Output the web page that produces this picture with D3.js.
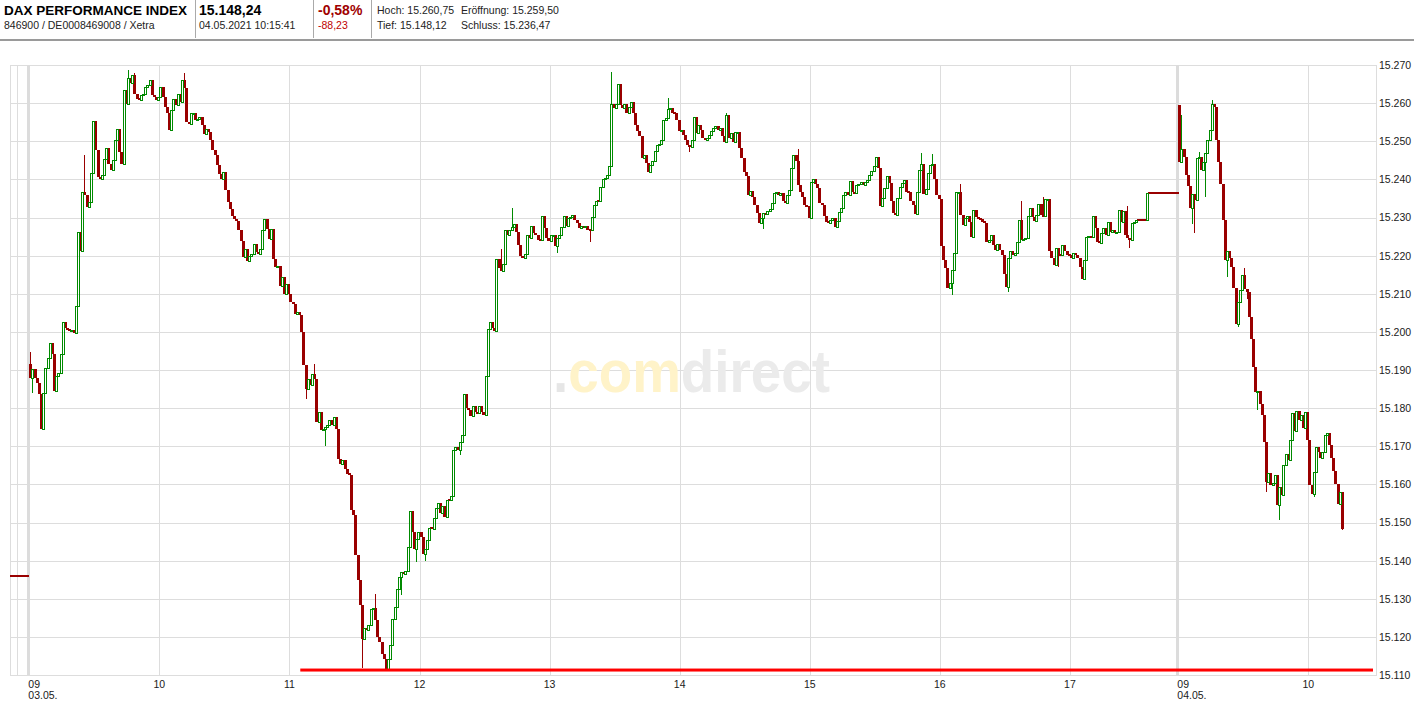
<!DOCTYPE html>
<html>
<head>
<meta charset="utf-8">
<script src="https://cdn.jsdelivr.net/npm/d3@7"></script>
<style>
  body { margin: 0; background: #fff; }
  #chart { width: 1414px; height: 701px; }
  svg text { font-family: "Liberation Sans", Arial, sans-serif; }
</style>
</head>
<body>
<div id="chart"></div>
<script>
// DAX intraday chart, 1-minute candles, Xetra 03.05. - 04.05.2021

// Quote header
const quoteTitle = ['DAX PERFORMANCE INDEX', '846900 / DE0008469008 / Xetra'];
const quoteLast = ['15.148,24', '04.05.2021 10:15:41'];
const quoteChange = ['-0,58%', '-88,23'];
const quoteFields = [['Hoch:', '15.260,75'], ['Eröffnung:', '15.259,50'], ['Tief:', '15.148,12'], ['Schluss:', '15.236,47']];

// Axis
const yTicks = [15110, 15120, 15130, 15140, 15150, 15160, 15170, 15180, 15190, 15200, 15210, 15220, 15230, 15240, 15250, 15260, 15270];
const hourLabels = ['09', '10', '11', '12', '13', '14', '15', '16', '17', '09', '10'];
const hourTicks = [0, 60, 120, 180, 240, 300, 360, 420, 480, 530, 590];   // minutes on the trading axis
const sessionDates = ['03.05.', '04.05.'];
const sessionStart = [0, 530];

// Reference levels
const prevClose = 15135.91;      // Schluss 30.04.
const sessionOpen = [15191.5, 15259.50];
const supportLevel = 15111.3;
const supportFrom = '11:05';

// Closes per minute, 03.05.
const c09 = [15188.0, 15190.2, 15188.0, 15186.7, 15183.6, 15174.4, 15184.0, 15190.6, 15193.2, 15197.2,
  15194.1, 15184.5, 15188.4, 15189.3, 15194.1, 15202.5, 15201.1, 15200.5, 15200.3, 15200.5,
  15199.8, 15206.8, 15226.1, 15221.3, 15236.8, 15235.8, 15232.7, 15234.0, 15241.7, 15255.3,
  15247.6, 15240.6, 15240.2, 15241.1, 15245.3, 15248.1, 15244.1, 15242.4, 15245.0, 15250.4,
  15253.3, 15247.2, 15244.1, 15263.4, 15259.9, 15266.5, 15265.2, 15267.4, 15262.5, 15261.2,
  15260.8, 15262.1, 15262.5, 15264.3, 15264.7, 15266.1, 15262.1, 15261.7, 15260.8, 15261.7];
const c10 = [15264.3, 15261.5, 15259.0, 15257.3, 15252.9, 15258.2, 15261.0, 15259.5, 15262.5, 15260.4,
  15266.1, 15263.9, 15255.1, 15254.5, 15257.3, 15257.5, 15255.5, 15255.8, 15256.4, 15254.2,
  15252.0, 15253.3, 15252.5, 15250.3, 15247.6, 15246.3, 15243.7, 15241.5, 15240.0, 15241.9,
  15237.1, 15234.0, 15232.3, 15230.5, 15229.6, 15229.2, 15226.6, 15223.9, 15219.6, 15221.8,
  15218.7, 15220.0, 15220.4, 15223.1, 15220.9, 15220.4, 15221.8, 15226.8, 15229.6, 15227.0,
  15224.4, 15227.0, 15219.1, 15216.9, 15217.4, 15212.1, 15214.4, 15210.0, 15212.6, 15210.0];
const c11 = [15207.8, 15207.4, 15204.8, 15205.2, 15204.3, 15199.9, 15191.2, 15185.1, 15187.7, 15186.0,
  15189.0, 15187.7, 15176.3, 15179.0, 15174.2, 15174.6, 15175.0, 15175.5, 15177.0, 15175.5,
  15177.7, 15174.6, 15166.7, 15165.4, 15166.3, 15164.1, 15162.8, 15162.4, 15153.2, 15151.9,
  15141.4, 15134.8, 15128.3, 15119.5, 15122.4, 15121.7, 15123.0, 15127.4, 15127.7, 15124.3,
  15120.0, 15118.7, 15115.6, 15114.3, 15111.7, 15114.3, 15117.8, 15124.8, 15127.8, 15132.6,
  15135.7, 15137.0, 15136.6, 15137.4, 15143.7, 15153.0, 15147.5, 15143.1, 15145.8, 15147.5];
const c12 = [15146.2, 15141.8, 15143.1, 15145.3, 15148.6, 15148.4, 15151.3, 15153.9, 15155.1, 15152.5,
  15154.2, 15151.4, 15156.0, 15155.8, 15157.0, 15168.9, 15169.8, 15168.9, 15171.1, 15173.0,
  15183.6, 15180.1, 15179.4, 15178.0, 15180.5, 15179.0, 15178.7, 15180.5, 15179.1, 15178.3,
  15188.5, 15200.8, 15202.6, 15201.0, 15200.1, 15219.2, 15216.7, 15215.9, 15217.8, 15226.8,
  15225.5, 15226.8, 15227.4, 15228.3, 15226.3, 15222.8, 15219.8, 15219.4, 15220.4, 15225.3,
  15224.6, 15227.7, 15225.9, 15225.5, 15224.2, 15224.2, 15230.3, 15227.2, 15224.6, 15223.9];
const c13 = [15225.3, 15225.5, 15222.4, 15224.6, 15225.5, 15227.4, 15230.3, 15227.7, 15229.8, 15230.1,
  15230.7, 15229.4, 15228.5, 15227.2, 15227.7, 15227.5, 15227.7, 15226.8, 15226.8, 15230.1,
  15233.3, 15234.2, 15234.2, 15238.0, 15240.1, 15240.3, 15241.2, 15243.4, 15259.7, 15258.7,
  15259.7, 15265.0, 15259.6, 15258.7, 15259.7, 15257.4, 15259.1, 15260.4, 15257.4, 15254.3,
  15252.6, 15251.3, 15245.6, 15246.3, 15244.3, 15241.9, 15243.8, 15244.9, 15247.5, 15249.1,
  15249.2, 15250.4, 15255.6, 15256.2, 15258.4, 15258.7, 15257.4, 15257.4, 15255.6, 15252.7];
const c14 = [15253.0, 15251.7, 15250.4, 15249.1, 15248.6, 15250.4, 15256.3, 15252.1, 15254.3, 15253.0,
  15250.8, 15250.4, 15250.8, 15251.7, 15252.6, 15253.6, 15253.9, 15253.0, 15253.6, 15251.3,
  15249.9, 15256.9, 15250.8, 15252.1, 15249.9, 15252.3, 15252.5, 15248.2, 15245.7, 15241.9,
  15240.8, 15235.9, 15237.0, 15235.5, 15233.3, 15231.1, 15228.5, 15229.8, 15231.1, 15230.9,
  15231.6, 15232.3, 15233.8, 15236.4, 15236.6, 15235.9, 15236.4, 15234.2, 15233.8, 15235.8,
  15237.3, 15242.9, 15246.4, 15244.9, 15238.6, 15236.8, 15235.5, 15233.3, 15232.9, 15230.0];
const c15 = [15239.4, 15240.1, 15238.7, 15237.7, 15233.8, 15233.3, 15230.3, 15228.9, 15228.5, 15229.4,
  15229.8, 15227.4, 15229.1, 15231.4, 15232.6, 15235.9, 15236.6, 15235.8, 15239.6, 15236.6,
  15236.4, 15238.4, 15238.7, 15239.3, 15238.4, 15239.3, 15239.9, 15241.2, 15242.2, 15243.6,
  15246.0, 15242.9, 15232.9, 15235.1, 15237.7, 15240.8, 15239.0, 15234.2, 15231.1, 15230.7,
  15235.1, 15238.1, 15239.0, 15239.9, 15236.8, 15236.6, 15234.2, 15233.3, 15231.0, 15236.8,
  15242.4, 15244.0, 15236.2, 15237.5, 15241.7, 15243.9, 15244.1, 15240.1, 15236.0, 15234.8];
const c16 = [15222.5, 15218.9, 15216.7, 15211.4, 15212.7, 15216.2, 15220.6, 15236.6, 15236.8, 15230.7,
  15228.1, 15229.8, 15230.4, 15228.9, 15225.0, 15232.0, 15230.1, 15229.8, 15229.6, 15228.9,
  15228.5, 15223.7, 15224.1, 15225.4, 15222.8, 15221.5, 15223.1, 15221.5, 15220.2, 15215.2,
  15211.8, 15219.3, 15221.1, 15220.2, 15220.6, 15223.7, 15229.4, 15224.1, 15224.4, 15224.6,
  15230.3, 15232.5, 15230.1, 15229.2, 15230.7, 15233.6, 15230.7, 15230.3, 15234.8, 15234.9,
  15221.1, 15219.3, 15217.5, 15221.9, 15220.2, 15220.2, 15222.8, 15221.1, 15220.2, 15220.2];
// 17:00 - 17:49, closing auction at 17:35
const c17 = [15219.3, 15220.6, 15220.2, 15219.3, 15217.1, 15214.0, 15218.9, 15224.8, 15225.2, 15224.8,
  15230.3, 15227.2, 15223.7, 15223.2, 15225.9, 15227.2, 15225.4, 15228.9, 15226.3, 15226.8,
  15225.9, 15226.3, 15232.0, 15228.9, 15231.6, 15225.4, 15224.6, 15224.1, 15228.5, 15228.9,
  15229.4, 15229.4, 15229.4, 15229.4, 15229.4, 15236.47, 15236.47, 15236.47, 15236.47, 15236.47,
  15236.47, 15236.47, 15236.47, 15236.47, 15236.47, 15236.47, 15236.47, 15236.47, 15236.47, 15236.47];

// Closes per minute, 04.05.
const d2c09 = [15244.6, 15248.0, 15245.9, 15241.1, 15238.2, 15232.4, 15236.1, 15234.6, 15245.5, 15245.9,
  15242.4, 15244.6, 15246.8, 15250.3, 15252.9, 15259.9, 15259.1, 15250.3, 15244.5, 15238.9,
  15229.3, 15218.9, 15221.3, 15219.5, 15216.9, 15211.5, 15202.1, 15207.8, 15211.0, 15215.0,
  15211.3, 15210.4, 15203.8, 15198.2, 15190.7, 15184.2, 15184.6, 15181.1, 15178.1, 15171.2,
  15160.7, 15162.9, 15159.8, 15160.3, 15162.5, 15154.6, 15159.4, 15157.2, 15165.1, 15167.9,
  15166.4, 15171.7, 15178.7, 15173.9, 15179.3, 15176.9, 15178.2, 15174.7, 15179.1, 15171.7];
const d2c10 = [15159.8, 15157.4, 15163.3, 15169.9, 15168.6, 15166.8, 15168.6, 15173.0, 15173.4, 15170.4,
  15166.8, 15163.5, 15160.0, 15154.8, 15158.1, 15148.24];

// Visible wicks: [date, time, high, low]
const wicks = [
  ['03.05.', '09:00', 15194.7, null], ['03.05.', '09:01', null, 15184.0], ['03.05.', '09:25', 15246.5, null],
  ['03.05.', '09:45', 15268.7, null], ['03.05.', '09:48', 15268.0, null], ['03.05.', '10:11', 15267.9, null],
  ['03.05.', '11:07', null, 15182.5], ['03.05.', '11:11', 15191.5, null], ['03.05.', '11:16', null, 15170.0],
  ['03.05.', '11:28', null, 15160.6], ['03.05.', '11:33', null, 15111.9], ['03.05.', '11:39', 15131.3, null],
  ['03.05.', '11:51', null, 15130.9], ['03.05.', '11:58', null, 15139.6], ['03.05.', '12:02', null, 15140.0],
  ['03.05.', '12:18', null, 15167.6], ['03.05.', '12:37', 15221.8, null], ['03.05.', '12:42', 15232.5, null],
  ['03.05.', '12:47', null, 15221.1], ['03.05.', '13:03', null, 15220.7], ['03.05.', '13:18', null, 15223.7],
  ['03.05.', '13:28', 15268.1, null], ['03.05.', '13:54', 15261.3, null], ['03.05.', '14:04', null, 15247.3],
  ['03.05.', '14:21', 15257.4, null], ['03.05.', '14:38', null, 15227.0], ['03.05.', '14:54', 15248.0, null],
  ['03.05.', '15:51', 15246.8, null], ['03.05.', '15:56', 15246.6, null], ['03.05.', '16:05', null, 15209.6],
  ['03.05.', '16:09', 15238.9, null], ['03.05.', '16:31', null, 15210.5], ['03.05.', '16:37', 15234.2, null],
  ['03.05.', '16:47', 15235.4, null], ['03.05.', '16:54', null, 15217.1], ['03.05.', '17:26', 15232.9, null],
  ['03.05.', '17:27', null, 15221.9],
  ['04.05.', '09:01', 15256.9, null], ['04.05.', '09:06', null, 15228.4], ['04.05.', '09:07', null, 15226.0],
  ['04.05.', '09:09', 15247.3, null], ['04.05.', '09:12', null, 15235.4], ['04.05.', '09:15', 15260.75, null],
  ['04.05.', '09:22', null, 15214.3], ['04.05.', '09:27', null, 15201.2], ['04.05.', '09:30', 15216.8, null],
  ['04.05.', '09:31', null, 15208.6], ['04.05.', '09:36', null, 15179.4], ['04.05.', '09:40', null, 15157.9],
  ['04.05.', '09:46', null, 15150.6], ['04.05.', '09:48', null, 15157.2], ['04.05.', '10:02', null, 15156.8],
  ['04.05.', '10:15', null, 15148.12]
];

const sessionHours = [[c09, c10, c11, c12, c13, c14, c15, c16, c17], [d2c09, d2c10]];

const COLORS = {
  up: '#008a00',
  down: '#990000',
  grid: '#dddddd',
  band: '#dcdcdc',
  support: '#ff0000',
  text: '#1a1a1a'
};

const W = 1414, H = 701;
const plot = { left: 10, right: 1376, top: 65, bottom: 675 };

const deLocale = d3.formatLocale({ decimal: ',', thousands: '.', grouping: [3], currency: ['', '€'] });
const fmtAxis = deLocale.format(',.0f');

// trading minute index: 03.05. 09:00 = 0, 04.05. 09:00 = 530
function timeIndex(session, hhmm) {
  const [h, m] = hhmm.split(':').map(Number);
  return sessionStart[session] + (h - 9) * 60 + m;
}

// build OHLC candles, open = previous close
function buildCandles() {
  const list = [];
  sessionHours.forEach((hours, s) => {
    let prev = sessionOpen[s];
    hours.flat().forEach((c, i) => {
      list.push({ t: sessionStart[s] + i, o: prev, c: c, h: Math.max(prev, c), l: Math.min(prev, c) });
      prev = c;
    });
  });
  const byT = new Map(list.map(d => [d.t, d]));
  wicks.forEach(([date, time, hi, lo]) => {
    const d = byT.get(timeIndex(sessionDates.indexOf(date), time));
    if (!d) return;
    if (hi != null) d.h = Math.max(d.h, hi);
    if (lo != null) d.l = Math.min(d.l, lo);
  });
  return list;
}

const candles = buildCandles();

const svg = d3.select('#chart').append('svg')
  .attr('width', W)
  .attr('height', H)
  .attr('viewBox', `0 0 ${W} ${H}`);

const x = d3.scaleLinear().domain([0, 530]).range([29.3, 1178.3]);
const y = d3.scaleLinear().domain([15110, 15270]).range([plot.bottom, plot.top]);

// ---- header ----
const header = svg.append('g').attr('class', 'header');

header.append('text').attr('x', 4).attr('y', 15)
  .attr('font-size', '13.5px').attr('font-weight', 'bold').attr('fill', '#000')
  .text(quoteTitle[0]);
header.append('text').attr('x', 4).attr('y', 29)
  .attr('font-size', '10.5px').attr('fill', '#222')
  .text(quoteTitle[1]);

header.append('text').attr('x', 199).attr('y', 15)
  .attr('font-size', '14px').attr('font-weight', 'bold').attr('fill', '#000')
  .text(quoteLast[0]);
header.append('text').attr('x', 199).attr('y', 29)
  .attr('font-size', '10.5px').attr('fill', '#222')
  .text(quoteLast[1]);

header.append('text').attr('x', 318).attr('y', 15)
  .attr('font-size', '14px').attr('font-weight', 'bold').attr('fill', '#a00000')
  .text(quoteChange[0]);
header.append('text').attr('x', 318).attr('y', 29)
  .attr('font-size', '10.5px').attr('fill', '#c00000')
  .text(quoteChange[1]);

const fieldPos = [[377, 14], [461, 14], [377, 29], [461, 29]];
quoteFields.forEach((f, i) => {
  header.append('text')
    .attr('x', fieldPos[i][0]).attr('y', fieldPos[i][1])
    .attr('font-size', '10.5px').attr('fill', '#222')
    .text(f[0] + ' ' + f[1]);
});

[195.5, 313.5, 371.5].forEach(sx => {
  header.append('line')
    .attr('x1', sx).attr('x2', sx).attr('y1', 0).attr('y2', 38)
    .attr('stroke', '#aaaaaa').attr('stroke-width', 1);
});
header.append('rect')
  .attr('x', 0).attr('y', 39).attr('width', W).attr('height', 2)
  .attr('fill', '#9a9a9a');

// ---- grid ----
const grid = svg.append('g').attr('class', 'grid');

grid.selectAll('line.h')
  .data(yTicks)
  .enter().append('line')
  .attr('class', 'h')
  .attr('x1', plot.left).attr('x2', plot.right)
  .attr('y1', d => Math.round(y(d)) + 0.5).attr('y2', d => Math.round(y(d)) + 0.5)
  .attr('stroke', COLORS.grid).attr('stroke-width', 1);

grid.selectAll('line.v')
  .data(hourTicks.concat([-5.5]))
  .enter().append('line')
  .attr('class', 'v')
  .attr('x1', d => Math.round(x(d)) + 0.5).attr('x2', d => Math.round(x(d)) + 0.5)
  .attr('y1', plot.top).attr('y2', plot.bottom)
  .attr('stroke', COLORS.grid).attr('stroke-width', 1);

// plot border
grid.append('rect')
  .attr('x', plot.left + 0.5).attr('y', plot.top + 0.5)
  .attr('width', plot.right - plot.left).attr('height', plot.bottom - plot.top)
  .attr('fill', 'none').attr('stroke', COLORS.grid).attr('stroke-width', 1);

// day separators
grid.selectAll('rect.band')
  .data(sessionStart)
  .enter().append('rect')
  .attr('class', 'band')
  .attr('x', d => Math.round(x(d)) - 2).attr('width', 3)
  .attr('y', plot.top).attr('height', plot.bottom - plot.top)
  .attr('fill', COLORS.band);

// ---- watermark ----
const wm = svg.append('text')
  .attr('x', 553).attr('y', 392)
  .attr('font-size', '60px').attr('font-weight', 'bold')
  .attr('textLength', 277).attr('lengthAdjust', 'spacingAndGlyphs');
wm.append('tspan').attr('fill', '#e6e6e6').text('.');
wm.append('tspan').attr('fill', '#fff3c9').text('com');
wm.append('tspan').attr('fill', '#ebebeb').text('direct');

// ---- previous close before the open ----
svg.append('rect')
  .attr('x', x(-9)).attr('width', x(0) - x(-9))
  .attr('y', Math.round(y(prevClose)) - 1).attr('height', 2)
  .attr('fill', COLORS.down)
  .attr('shape-rendering', 'crispEdges');

// ---- candles ----
const candleG = svg.append('g').attr('class', 'candles')
  .attr('shape-rendering', 'crispEdges');
const upC = candles.filter(d => d.c > d.o);
const downC = candles.filter(d => d.c <= d.o);
const left = d => Math.round(x(d.t));
const mid = d => left(d) + 1.5;

// down: full wick, filled body
candleG.selectAll('line.dw')
  .data(downC.filter(d => d.h > d.o || d.l < d.c))
  .enter().append('line')
  .attr('class', 'dw')
  .attr('x1', mid).attr('x2', mid)
  .attr('y1', d => y(d.h)).attr('y2', d => y(d.l))
  .attr('stroke', COLORS.down).attr('stroke-width', 1);

candleG.selectAll('rect.down')
  .data(downC)
  .enter().append('rect')
  .attr('class', 'down')
  .attr('x', left)
  .attr('width', 3)
  .attr('y', d => (y(d.c) - y(d.o) < 2 ? Math.round((y(d.o) + y(d.c)) / 2) - 1 : y(d.o)))
  .attr('height', d => Math.max(2, y(d.c) - y(d.o)))
  .attr('fill', COLORS.down);

// up: hollow body, wick outside body only
candleG.selectAll('line.uh')
  .data(upC.filter(d => d.h > d.c))
  .enter().append('line')
  .attr('class', 'uh')
  .attr('x1', mid).attr('x2', mid)
  .attr('y1', d => y(d.h)).attr('y2', d => y(d.c))
  .attr('stroke', COLORS.up).attr('stroke-width', 1);

candleG.selectAll('line.ul')
  .data(upC.filter(d => d.l < d.o))
  .enter().append('line')
  .attr('class', 'ul')
  .attr('x1', mid).attr('x2', mid)
  .attr('y1', d => y(d.o)).attr('y2', d => y(d.l))
  .attr('stroke', COLORS.up).attr('stroke-width', 1);

candleG.selectAll('rect.up')
  .data(upC)
  .enter().append('rect')
  .attr('class', 'up')
  .attr('x', d => left(d) + 0.5)
  .attr('width', 2)
  .attr('y', d => Math.round(y(d.c)) + 0.5)
  .attr('height', d => Math.max(1, Math.round(y(d.o)) - Math.round(y(d.c))))
  .attr('fill', 'none')
  .attr('stroke', COLORS.up).attr('stroke-width', 1);

// ---- support line ----
svg.append('rect')
  .attr('x', x(timeIndex(0, supportFrom)))
  .attr('width', plot.right - 3 - x(timeIndex(0, supportFrom)))
  .attr('y', y(supportLevel) - 1.5).attr('height', 3)
  .attr('fill', COLORS.support);

// ---- y axis (right) ----
const yAxis = d3.axisRight(y)
  .tickValues(yTicks)
  .tickSize(0)
  .tickPadding(3)
  .tickFormat(fmtAxis);

const yAxisG = svg.append('g')
  .attr('transform', `translate(${plot.right},0)`)
  .call(yAxis);
yAxisG.select('.domain').remove();
yAxisG.selectAll('text')
  .attr('font-family', '"Liberation Sans", Arial, sans-serif')
  .attr('font-size', '10.5px')
  .attr('fill', COLORS.text);

// ---- x axis labels ----
const xLab = svg.append('g').attr('class', 'x-labels')
  .attr('font-size', '10.5px').attr('fill', COLORS.text);

hourTicks.forEach((t, i) => {
  const isDayStart = sessionStart.includes(t);
  xLab.append('text')
    .attr('x', isDayStart ? x(t) - 1 : x(t))
    .attr('y', 688)
    .attr('text-anchor', isDayStart ? 'start' : 'middle')
    .text(hourLabels[i]);
});
sessionStart.forEach((t, i) => {
  xLab.append('text')
    .attr('x', x(t) - 1)
    .attr('y', 699)
    .text(sessionDates[i]);
});
</script>
</body>
</html>
